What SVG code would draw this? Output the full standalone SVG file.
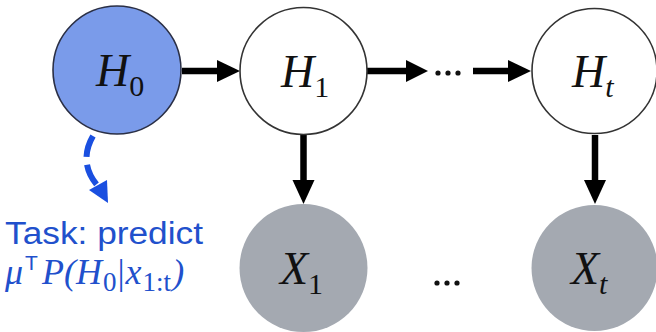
<svg xmlns="http://www.w3.org/2000/svg" width="656" height="332" viewBox="0 0 656 332">
<defs>
<style>
.hid{fill:#ffffff;stroke:#333333;stroke-width:1.6}
.h0{fill:#7a9bea;stroke:#2a2f45;stroke-width:1.6}
.obs{fill:#a4a9b1;stroke:none}
.lbl{font-family:"Liberation Serif","DejaVu Serif",serif;font-style:italic;font-size:46px;fill:#111111}
.sub{font-style:normal;font-size:30px}
.subi{font-style:italic;font-size:30px}
.edge{stroke:#000000;stroke-width:6.5;fill:none}
.dash{stroke:#1a4fe0;stroke-width:6;fill:none;stroke-dasharray:22 8}
.task{font-family:"Liberation Sans","Open Sans",sans-serif;font-size:31px;fill:#2150cc}
.math{font-family:"Liberation Serif","DejaVu Serif",serif;font-style:italic;font-size:36px;fill:#2150cc}
.msub{font-style:normal;font-size:27px}
.dots{fill:#111111}
</style>
</defs>
<g id="connectors">
<line class="edge" x1="182" y1="71" x2="218" y2="71"/>
<path d="M217,60 L240,71 L217,82 Z" fill="#000"/>
<line class="edge" x1="367" y1="71" x2="408" y2="71"/>
<path d="M406,60 L428,71 L406,82 Z" fill="#000"/>
<line class="edge" x1="473" y1="71" x2="510" y2="71"/>
<path d="M508,60 L531,71 L508,82 Z" fill="#000"/>
<line class="edge" x1="303.5" y1="135" x2="303.5" y2="182"/>
<path d="M292.5,180 L303.5,204 L314.5,180 Z" fill="#000"/>
<line class="edge" x1="595" y1="135" x2="595" y2="182"/>
<path d="M584,180 L595,204 L606,180 Z" fill="#000"/>
<path class="dash" d="M93,136 C82,155 86,172 97,185"/>
<path d="M89,190 L108,203 L107,180 Z" fill="#1a4fe0"/>
<circle class="dots" cx="438" cy="73" r="2.6"/>
<circle class="dots" cx="448" cy="73" r="2.6"/>
<circle class="dots" cx="458" cy="73" r="2.6"/>
<circle class="dots" cx="437" cy="283" r="2.6"/>
<circle class="dots" cx="447" cy="283" r="2.6"/>
<circle class="dots" cx="457" cy="283" r="2.6"/>
</g>
<g id="H0">
<circle class="h0" cx="117" cy="70" r="64"/>
<text class="lbl" x="96" y="86">H<tspan class="sub" dy="10">0</tspan></text>
</g>
<g id="H1">
<circle class="hid" cx="303.5" cy="71" r="63.5"/>
<text class="lbl" x="281" y="87">H<tspan class="sub" dy="10">1</tspan></text>
</g>
<g id="Ht">
<circle class="hid" cx="594.5" cy="71" r="62.5"/>
<text class="lbl" x="572" y="87">H<tspan class="subi" dy="10">t</tspan></text>
</g>
<g id="X1">
<circle class="obs" cx="303.5" cy="268" r="64"/>
<text class="lbl" x="280" y="284">X<tspan class="sub" dy="10">1</tspan></text>
</g>
<g id="Xt">
<circle class="obs" cx="594.5" cy="268" r="63"/>
<text class="lbl" x="571" y="284">X<tspan class="subi" dy="10">t</tspan></text>
</g>
<g id="task">
<text class="task" x="5" y="244" font-size="30" textLength="198" lengthAdjust="spacingAndGlyphs">Task: predict</text>
<text class="math" x="5" y="284">μ<tspan font-family="Liberation Sans, sans-serif" font-style="normal" font-size="21" dx="2" dy="-14">T</tspan><tspan dx="4" dy="14">P(H</tspan><tspan class="msub" dx="1" dy="7">0</tspan><tspan dx="1" dy="-7" font-style="normal">|</tspan><tspan dx="1">x</tspan><tspan class="msub" dx="1" dy="7">1:</tspan><tspan class="msub" font-style="italic">t</tspan><tspan dx="1" dy="-7">)</tspan></text>
</g>
</svg>
